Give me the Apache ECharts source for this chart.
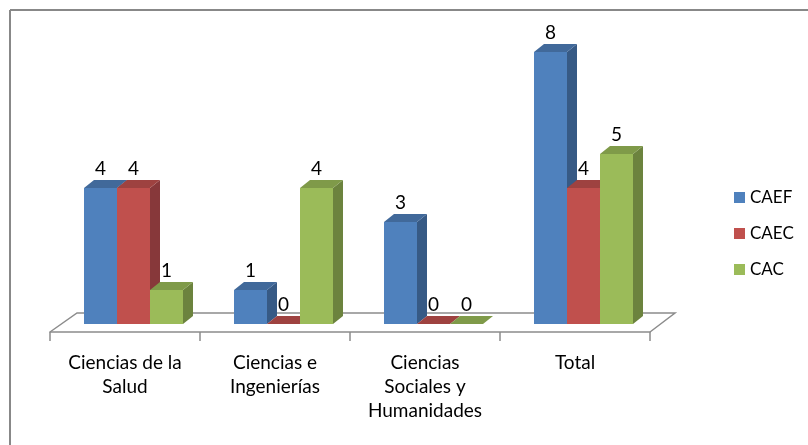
<!DOCTYPE html>
<html>
<head>
<meta charset="utf-8">
<script src="https://cdn.jsdelivr.net/npm/echarts@6/dist/echarts.min.js"></script>
<style>
  html, body { margin: 0; padding: 0; background: #fff; }
  #container { width: 808px; height: 445px; }
</style>
</head>
<body>
<div id="container"></div>
<script>
var dom = document.getElementById("container");
var myChart = echarts.init(dom);
var option;

var categories = ['Ciencias de la\nSalud', 'Ciencias e\nIngenierías', 'Ciencias\nSociales y\nHumanidades', 'Total'];
var seriesNames = ['CAEF', 'CAEC', 'CAC'];
var caef = [4, 1, 3, 8];
var caec = [4, 0, 0, 4];
var cac = [1, 4, 0, 5];

var front = ['#4F81BD', '#C0504D', '#9BBB59'];
var side  = ['#375A85', '#87383A', '#6C833E'];
var top_  = ['#41699A', '#9E4240', '#7F9A49'];

var BAR_W = 33, DX = 10, DY = 8, LIFT = 8, SHIFT = 8.5;

function barRender(sIdx) {
    return function (params, api) {
        var i = api.value(0);
        var v = api.value(1);
        var base = api.coord([i, 0]);
        var topP = api.coord([i, v]);
        var x0 = base[0] + SHIFT - 1.5 * BAR_W + sIdx * BAR_W;
        var x1 = x0 + BAR_W;
        var yb = base[1] - LIFT;
        var yt = topP[1] - LIFT;
        var children = [];
        if (v > 0) {
            children.push({
                type: 'polygon',
                shape: { points: [[x1, yt], [x1 + DX, yt - DY], [x1 + DX, yb - DY], [x1, yb]] },
                style: { fill: side[sIdx] }
            });
            children.push({
                type: 'rect',
                shape: { x: x0, y: yt, width: BAR_W, height: yb - yt },
                style: { fill: front[sIdx] }
            });
        }
        children.push({
            type: 'polygon',
            shape: { points: [[x0, yt], [x1, yt], [x1 + DX, yt - DY], [x0 + DX, yt - DY]] },
            style: { fill: top_[sIdx] }
        });
        children.push({
            type: 'text',
            style: {
                text: String(v),
                x: (x0 + x1) / 2,
                y: yt - DY - 2,
                align: 'center',
                verticalAlign: 'bottom',
                fill: '#000',
                font: '19px Lato'
            }
        });
        return { type: 'group', children: children };
    };
}

function floorRender(params, api) {
    var l = api.coord([0, 0]);
    var r = api.coord([3, 0]);
    var half = 75;
    var xl = l[0] - half, xr = r[0] + half, y = l[1];
    return {
        type: 'polyline',
        shape: { points: [[xl, y], [xl + 27, y - 19], [xr + 25, y - 19], [xr, y]] },
        style: { stroke: '#8C8C8C', lineWidth: 1.5, fill: null }
    };
}

function mkData(arr) {
    return arr.map(function (v, i) { return [i, v]; });
}

option = {
    animation: false,
    textStyle: { fontFamily: 'Lato' },
    graphic: [
        { type: 'line', shape: { x1: 10, y1: 10, x2: 808, y2: 10 }, style: { stroke: '#888', lineWidth: 2 } },
        { type: 'line', shape: { x1: 10, y1: 10, x2: 10, y2: 445 }, style: { stroke: '#888', lineWidth: 2 } }
    ],
    grid: {
        left: 50,
        right: 158,
        top: 60,
        bottom: 113
    },
    legend: {
        orient: 'vertical',
        left: 729,
        top: 184,
        itemGap: 19,
        itemWidth: 11,
        itemHeight: 11,
        icon: 'rect',
        textStyle: { fontSize: 17, color: '#000', fontFamily: 'Lato' },
        data: seriesNames.map(function (n, k) {
            return { name: n, itemStyle: { color: front[k] } };
        })
    },
    xAxis: {
        type: 'category',
        data: categories,
        boundaryGap: true,
        axisLine: { show: true, lineStyle: { color: '#8C8C8C', width: 1.5 } },
        axisTick: { show: true, length: 9, lineStyle: { color: '#8C8C8C', width: 1.5 } },
        axisLabel: { color: '#000', fontSize: 19, lineHeight: 24, margin: 19, fontFamily: 'Lato', interval: 0 }
    },
    yAxis: {
        type: 'value',
        min: 0,
        max: 8,
        interval: 1,
        show: false,
        splitLine: { show: false }
    },
    series: [
        {
            name: 'floor',
            type: 'custom',
            renderItem: floorRender,
            data: [[0, 0]],
            z: 1,
            silent: true
        },
        {
            name: seriesNames[0],
            type: 'custom',
            renderItem: barRender(0),
            itemStyle: { color: front[0] },
            data: mkData(caef),
            z: 2
        },
        {
            name: seriesNames[1],
            type: 'custom',
            renderItem: barRender(1),
            itemStyle: { color: front[1] },
            data: mkData(caec),
            z: 3
        },
        {
            name: seriesNames[2],
            type: 'custom',
            renderItem: barRender(2),
            itemStyle: { color: front[2] },
            data: mkData(cac),
            z: 4
        }
    ]
};

if (option && typeof option === 'object') {
    myChart.setOption(option);
}
</script>
</body>
</html>
